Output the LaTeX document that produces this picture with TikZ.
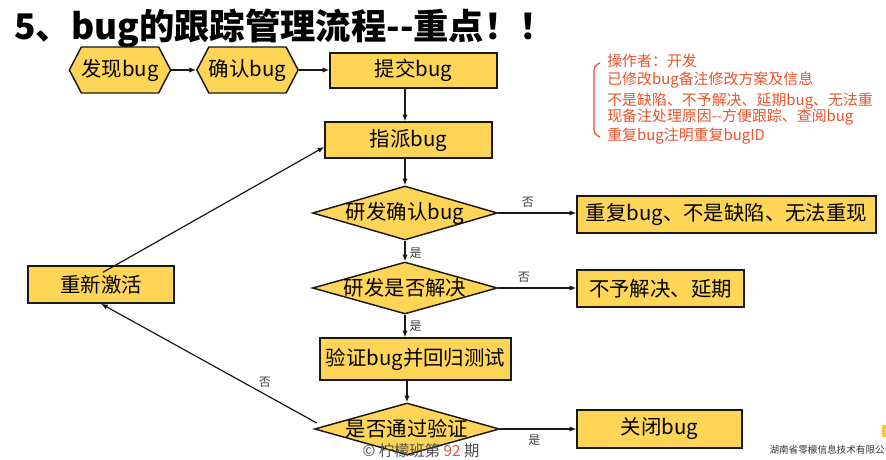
\documentclass[tikz,border=0pt]{standalone}
\usepackage{fontspec}
\setmainfont{Noto Sans CJK SC}
\usetikzlibrary{shapes.geometric,shapes.symbols,arrows.meta,calc}
\definecolor{boxfill}{RGB}{255,213,88}
\definecolor{note}{RGB}{232,84,44}
\definecolor{edge}{RGB}{25,25,25}
\tikzset{
 sz/.style 2 args={minimum width=#1*0.75pt, minimum height=#2*0.75pt},
 boxnode/.style={draw=edge, fill=boxfill, line width=1.1pt, inner sep=0pt, font=\fontsize{15.3}{18}\selectfont},
 hexnode/.style={boxnode, shape=signal, signal to=west and east, signal pointer angle=125},
 dianode/.style={boxnode, shape=diamond},
 arr/.style={draw=edge, line width=0.9pt, -{Latex[length=5pt,width=4pt]}},
 lbl/.style={font=\fontsize{9}{10}\selectfont, text=black!75, inner sep=0pt},
 notetext/.style={font=\fontsize{11.2}{13}\selectfont, text=note, anchor=west, inner sep=0pt},
}
\begin{document}
\begin{tikzpicture}[x=0.75pt,y=-0.75pt]
\clip (0,0) rectangle (886,460);
\useasboundingbox (0,0) rectangle (886,460);
\fill[white] (0,0) rectangle (886,460);

% title
\node[anchor=west, inner sep=0pt, font=\bfseries\fontsize{26.5}{30}\selectfont] (title) at (14,28) {5、bug的跟踪管理流程-{}-重点！！};

% nodes
\node[hexnode, sz={98}{46}] (fx) at (120,70) {发现bug};
\node[hexnode, sz={101}{46}] (qr) at (247.5,70) {确认bug};
\node[boxnode, sz={167}{35}] (tj) at (413.5,70.5) {提交bug};
\node[boxnode, sz={167}{36}] (zp) at (408.5,140) {指派bug};
\node[dianode, sz={185}{54}] (d1) at (405,213) {\makebox[0pt]{研发确认bug}};
\node[boxnode, sz={299}{37}] (cf) at (726.5,214.5) {重复bug、不是缺陷、无法重现};
\node[dianode, sz={185}{52}] (d2) at (405,288) {\makebox[0pt]{研发是否解决}};
\node[boxnode, sz={167}{37}] (by) at (660.5,288.5) {不予解决、延期};
\node[boxnode, sz={191}{42}] (yz) at (415.5,359) {验证bug并回归测试};
\node[dianode, sz={185}{52}] (d3) at (407,429) {\makebox[0pt]{是否通过验证}};
\node[boxnode, sz={165}{38}] (gb) at (659.5,429) {关闭bug};
\node[boxnode, sz={146}{37}] (rj) at (101,284.5) {重新激活};

% connectors
\draw[arr] (fx.east) -- (qr.west);
\draw[arr] (qr.east) -- (tj.west |- qr.east);
\draw[arr] (tj.south -| d1.north) -- (zp.north -| d1.north);
\draw[arr] (zp.south -| d1.north) -- (d1.north);
\draw[arr] (d1.south) -- node[lbl, anchor=west, xshift=3pt, yshift=-2pt] (l1) {是} (d2.north);
\draw[arr] (d2.south) -- node[lbl, anchor=west, xshift=3pt] (l2) {是} (yz.north -| d2.south);
\draw[arr] (yz.south -| d3.north) -- (d3.north);
\draw[arr] (d1.east) -- node[lbl, above=4pt, pos=0.38] (l3) {否} (d1.east -| cf.west);
\draw[arr] (d2.east) -- node[lbl, above=4pt, pos=0.33] (l4) {否} (d2.east -| by.west);
\draw[arr] (d3.east) -- node[lbl, below=4pt, pos=0.45] (l5) {是} (d3.east -| gb.west);
\coordinate (d3l) at ($(d3.west)+(3,-6)$);
\draw[arr] (d3l) -- node[lbl, above=5pt, pos=0.24] (l6) {否} (rj.south);
\coordinate (rjin) at ($(rj.north)+(2,7)$);
\draw[arr] (rjin) -- ($(zp.west)+(0,7)$);

% annotation
\draw[note, line width=1pt, rounded corners=3pt] (600,63) -- (594,66) -- (594,134) -- (600,137);
\node[notetext] (a1) at (607,61) {操作者：开发};
\node[notetext] (a2) at (607,80) {已修改bug备注修改方案及信息};
\node[notetext] (a3) at (607,101) {不是缺陷、不予解决、延期bug、无法重};
\node[notetext] (a4) at (607,117) {现备注处理原因-{}-方便跟踪、查阅bug};
\node[notetext] (a5) at (607,136) {重复bug注明重复bugID};

% footer fragments
\node[anchor=north, inner sep=0pt, font=\fontsize{11.5}{13}\selectfont, text=black!70] (foot) at (421,443) {© 柠檬班第 \textcolor{note}{92} 期};
\node[anchor=east, inner sep=0pt, font=\fontsize{7.2}{9}\selectfont, text=black!80] (corp) at (885,450) {湖南省零檬信息技术有限公};
\fill[boxfill!80!orange] (882,425) rectangle (886,437);
\end{tikzpicture}
\end{document}
